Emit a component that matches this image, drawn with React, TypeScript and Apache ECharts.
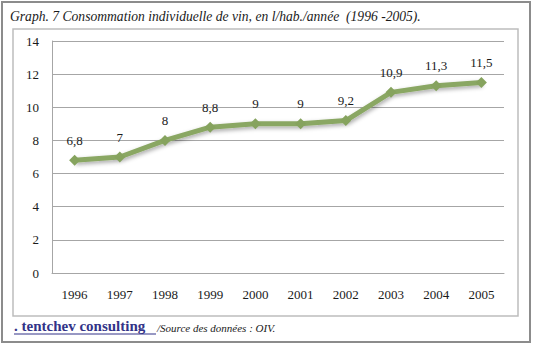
import React, { useEffect, useRef } from "react";
import * as echarts from "echarts";

const years = ["1996", "1997", "1998", "1999", "2000", "2001", "2002", "2003", "2004", "2005"];
const consumption = [6.8, 7, 8, 8.8, 9, 9, 9.2, 10.9, 11.3, 11.5];
const titleText = "Graph. 7 Consommation individuelle de vin, en l/hab./année  (1996 -2005).";
const brandText = ". tentchev consulting ";
const sourceText = "/Source des données : OIV.";

const SERIF = "Liberation Serif";

export default function App() {
  const ref = useRef<HTMLDivElement>(null);
  useEffect(() => {
    if (!ref.current) return;
    const chart = echarts.init(ref.current, undefined, { renderer: "svg" });
    chart.setOption({
      animation: false,
      backgroundColor: "#ffffff",
      grid: { left: 52, right: 29, top: 41, bottom: 75 },
      xAxis: {
        type: "category",
        data: years,
        boundaryGap: true,
        axisLine: { show: true, lineStyle: { color: "#a6a6a6", width: 1 } },
        axisTick: { show: false },
        axisLabel: { color: "#1a1a1a", fontFamily: SERIF, fontSize: 13, margin: 15 },
      },
      yAxis: {
        type: "value",
        min: 0,
        max: 14,
        interval: 2,
        axisLine: { show: true, lineStyle: { color: "#a6a6a6", width: 1 } },
        axisTick: { show: false },
        axisLabel: { color: "#1a1a1a", fontFamily: SERIF, fontSize: 13, margin: 13 },
        splitLine: { lineStyle: { color: "#a6a6a6", width: 1 } },
      },
      series: [
        {
          type: "line",
          data: consumption,
          symbol: "diamond",
          symbolSize: 11,
          itemStyle: { color: "#86a35e" },
          lineStyle: {
            color: "#8aa764",
            width: 5,
            shadowBlur: 4,
            shadowColor: "rgba(0,0,0,0.35)",
            shadowOffsetY: 2,
            shadowOffsetX: 1,
          },
          label: {
            show: true,
            position: "top",
            distance: 8,
            color: "#1a1a1a",
            fontFamily: SERIF,
            fontSize: 13,
            formatter: (p: any) => String(p.value).replace(".", ","),
          },
        },
      ],
      graphic: [
        {
          type: "rect",
          shape: { x: 2, y: 2, width: 528, height: 340 },
          style: { fill: "none", stroke: "#8c8c8c", lineWidth: 2 },
          silent: true,
          z: -1,
        },
        {
          type: "rect",
          shape: { x: 13, y: 29, width: 505, height: 287 },
          style: { fill: "none", stroke: "#bdbdbd", lineWidth: 1.5 },
          silent: true,
          z: -1,
        },
        {
          type: "text",
          x: 10,
          y: 9,
          style: {
            text: titleText,
            fill: "#1a1a1a",
            fontFamily: SERIF,
            fontStyle: "italic",
            fontSize: 13.6,
          },
        },
        {
          type: "text",
          x: 14,
          y: 318,
          style: {
            text: brandText,
            fill: "#333388",
            fontFamily: SERIF,
            fontWeight: "bold",
            fontSize: 15,
          },
        },
        {
          type: "line",
          shape: { x1: 14, y1: 334, x2: 156, y2: 334 },
          style: { stroke: "#333388", lineWidth: 1.2 },
        },
        {
          type: "text",
          x: 157,
          y: 322,
          style: {
            text: sourceText,
            fill: "#1a1a1a",
            fontFamily: SERIF,
            fontStyle: "italic",
            fontSize: 11,
          },
        },
      ],
    });
    return () => chart.dispose();
  }, []);
  return (
    <div
      ref={ref}
      style={{ width: 533, height: 348, position: "fixed", left: 0, top: 0 }}
    />
  );
}
